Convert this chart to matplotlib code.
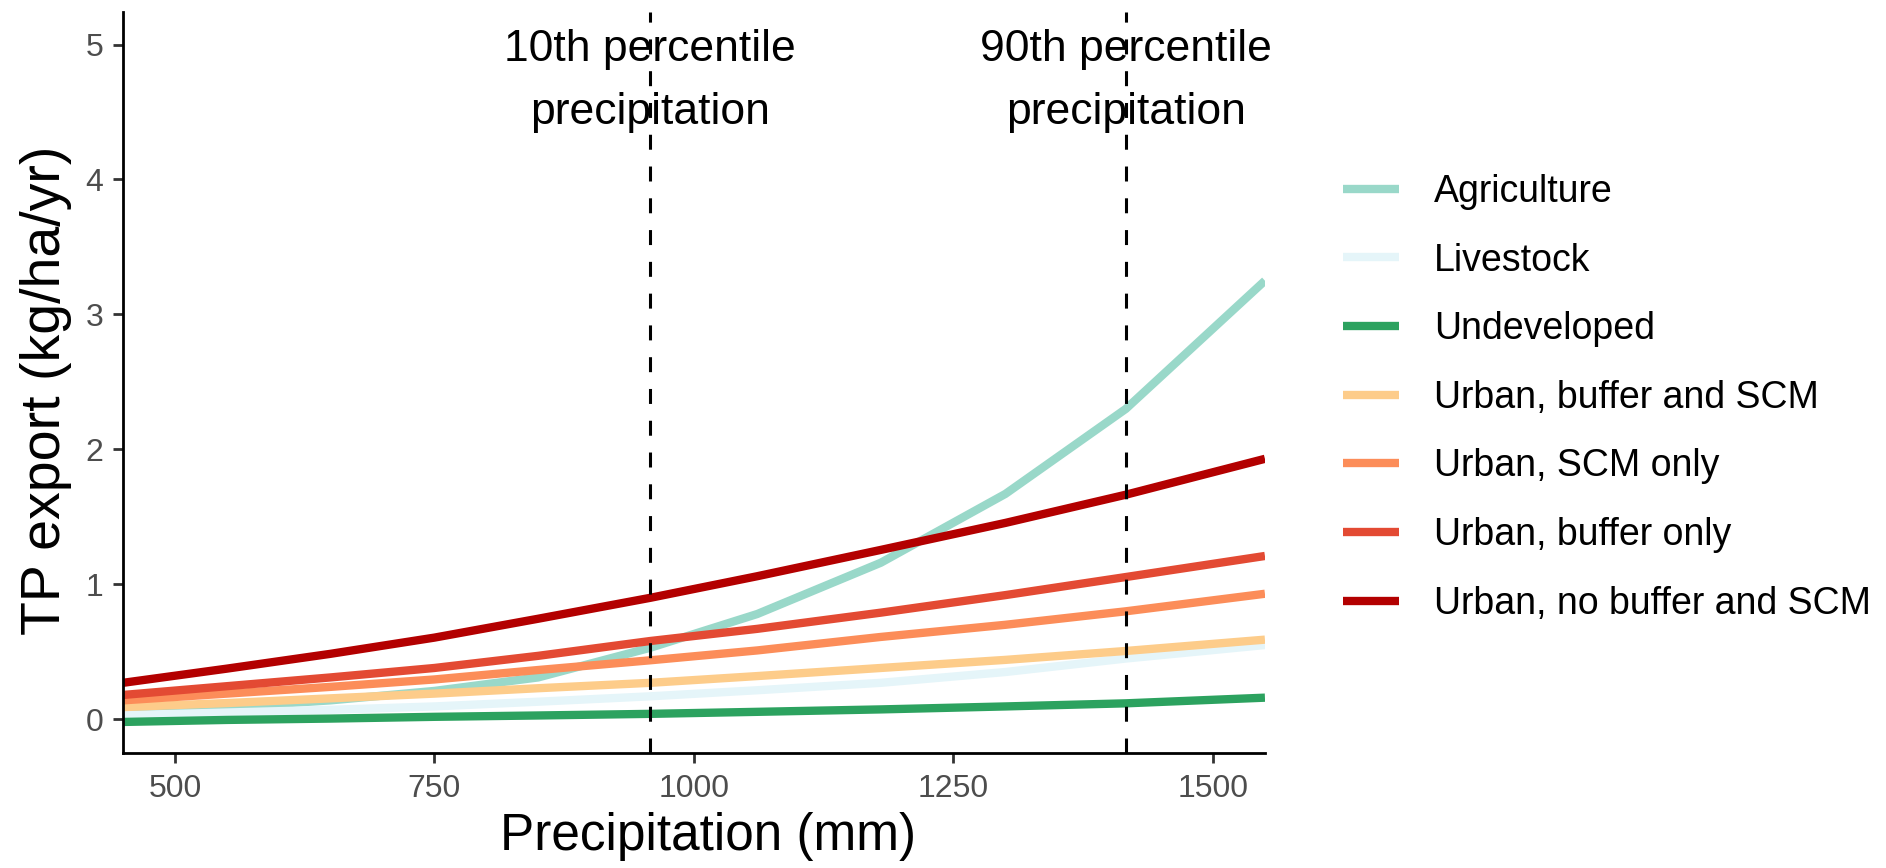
import matplotlib
matplotlib.use("Agg")
import matplotlib.pyplot as plt
from matplotlib import font_manager

# Modelled total phosphorus export by land use across annual precipitation
precip = [450, 550, 650, 750, 850, 958, 1061, 1180, 1300, 1416, 1550]
agriculture = [0.05, 0.09, 0.14, 0.21, 0.31, 0.53, 0.78, 1.16, 1.67, 2.30, 3.25]
livestock = [0.03, 0.05, 0.07, 0.095, 0.13, 0.17, 0.215, 0.27, 0.35, 0.45, 0.55]
undeveloped = [-0.02, -0.005, 0.005, 0.018, 0.028, 0.04, 0.055, 0.073, 0.095, 0.118, 0.16]
urban_buffer_scm = [0.09, 0.12, 0.155, 0.19, 0.23, 0.27, 0.32, 0.38, 0.44, 0.506, 0.59]
urban_scm_only = [0.14, 0.19, 0.24, 0.295, 0.365, 0.437, 0.51, 0.61, 0.70, 0.80, 0.93]
urban_buffer_only = [0.18, 0.245, 0.31, 0.38, 0.47, 0.58, 0.67, 0.79, 0.92, 1.054, 1.21]
urban_no_buffer_scm = [0.27, 0.375, 0.485, 0.605, 0.745, 0.90, 1.06, 1.255, 1.455, 1.664, 1.93]

land_uses = ["Agriculture", "Livestock", "Undeveloped", "Urban, buffer and SCM",
             "Urban, SCM only", "Urban, buffer only", "Urban, no buffer and SCM"]
series = [agriculture, livestock, undeveloped, urban_buffer_scm,
          urban_scm_only, urban_buffer_only, urban_no_buffer_scm]
colors = ["#99d8c9", "#e5f5f9", "#2ca25f", "#fdcc8a", "#fc8d59", "#e34a33", "#b30000"]

p10_precip = 958
p90_precip = 1416
percentile_labels = ["10th percentile\nprecipitation", "90th percentile\nprecipitation"]

x_ticks = [500, 750, 1000, 1250, 1500]
y_ticks = [0, 1, 2, 3, 4, 5]

# Prefer the condensed sans if present; otherwise use the regular width
installed = {f.name for f in font_manager.fontManager.ttflist}
if "Liberation Sans Narrow" in installed:
    text_font = ["Liberation Sans Narrow", "DejaVu Sans"]
    fs_tick, fs_leg, fs_note, fs_xlab = 27, 33, 39, 45
    leg_spacing, leg_handle, leg_pad = 0.54, 1.22, 0.76
    note_spacing = 1.38
else:
    text_font = ["Liberation Sans", "DejaVu Sans"]
    fs_tick, fs_leg, fs_note, fs_xlab = 23, 27, 32, 37
    leg_spacing, leg_handle, leg_pad = 0.87, 1.5, 0.93
    note_spacing = 1.67
plt.rcParams["font.family"] = text_font

fig = plt.figure(figsize=(18.86, 8.68), dpi=100)
ax = fig.add_axes([0.0652, 0.1325, 0.6055, 0.8535])

for name, vals, col in zip(land_uses, series, colors):
    ax.plot(precip, vals, color=col, lw=6, solid_capstyle="butt", label=name, zorder=2)

for xv, lab in zip([p10_precip, p90_precip], percentile_labels):
    ax.axvline(xv, color="black", lw=2.2, linestyle=(0, (4.9, 5.5)), zorder=3)
    ax.text(xv, 4.73, lab, ha="center", va="center", fontsize=fs_note,
            linespacing=note_spacing, color="black", zorder=4)

ax.set_xlim(450, 1550)
ax.set_ylim(-0.25, 5.24)
ax.set_xticks(x_ticks)
ax.set_yticks(y_ticks)

for side in ["top", "right"]:
    ax.spines[side].set_visible(False)
for side in ["left", "bottom"]:
    ax.spines[side].set_linewidth(2.0)
    ax.spines[side].set_color("black")

ax.tick_params(axis="both", length=7, width=2, color="#333333",
               labelsize=fs_tick, labelcolor="#4d4d4d")
ax.tick_params(axis="x", pad=8)
ax.tick_params(axis="y", pad=7)

ax.set_xlabel("Precipitation (mm)", fontsize=fs_xlab, labelpad=6)
ax.xaxis.label.set_x(0.512)
ax.set_ylabel("TP export (kg/ha/yr)", fontsize=40, labelpad=10,
              family=["Liberation Sans", "DejaVu Sans"])
ax.yaxis.label.set_y(0.49)

leg = ax.legend(loc="center left", bbox_to_anchor=(0.7121, 0.5417),
                bbox_transform=fig.transFigure, frameon=False, fontsize=fs_leg,
                handlelength=leg_handle, handletextpad=leg_pad,
                labelspacing=leg_spacing, borderpad=0, borderaxespad=0)
for line in leg.get_lines():
    line.set_linewidth(6)

fig.savefig("out.png", dpi=100)
